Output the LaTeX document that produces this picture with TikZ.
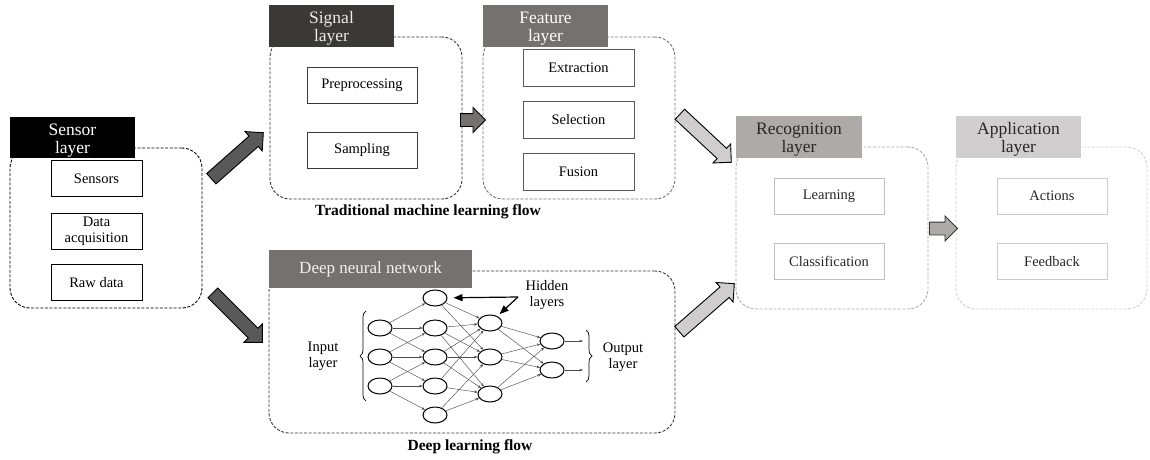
\documentclass[tikz,border=0pt]{standalone}
\usepackage{fontspec}
\setmainfont{Liberation Serif}
\usetikzlibrary{calc,shapes.arrows,shapes.geometric,arrows.meta,decorations.pathreplacing}

\definecolor{hdrSignal}{HTML}{3B3838}
\definecolor{hdrFeature}{HTML}{767171}
\definecolor{hdrRecog}{HTML}{AEAAAA}
\definecolor{hdrApp}{HTML}{D0CECE}
\definecolor{arrDark}{HTML}{595959}
\definecolor{arrLight}{HTML}{CFCDCD}

\tikzset{
  layerbox/.style={draw, dash pattern=on 3pt off 1.6pt, line width=0.9pt,
    rounded corners=20pt, inner sep=0pt},
  header/.style={inner sep=0pt, font=\fontsize{17.5}{18}\selectfont, align=center},
  item/.style={draw, line width=0.9pt, inner sep=0pt, minimum width=110pt,
    minimum height=36pt, font=\fontsize{14.5}{16}\selectfont, align=center},
  neuron/.style={ellipse, draw, line width=1pt, minimum width=24pt,
    minimum height=16pt, inner sep=0pt, fill=white},
  netedge/.style={draw=black!70, line width=0.45pt, -{Stealth[length=3.5pt,width=2.6pt]}},
  netlabel/.style={font=\fontsize{14.5}{16}\selectfont, align=center},
  flowtitle/.style={font=\bfseries\fontsize{15.5}{17}\selectfont},
  blk/.style={single arrow, inner xsep=0pt, inner ysep=6.5pt, minimum width=0pt,
    single arrow head extend=6pt, single arrow tip angle=90,
    single arrow head indent=0pt, line width=0.9pt},
  blksmall/.style={blk, inner ysep=6pt},
}

% strut that lowers a two-line header text slightly inside its box
\newcommand\hdrstrut{\rule{0pt}{17pt}}

% block arrow from a tail coordinate to a tip coordinate
\newcommand\blockarrow[3]{%
  \path let \p1=(#1), \p2=(#2),
        \n1={atan2(\y2-\y1,\x2-\x1)}, \n2={veclen(\x2-\x1,\y2-\y1)} in
    node[#3, rotate=\n1, minimum height=\n2, anchor=tail] at (\p1) {};
}

\begin{document}
\begin{tikzpicture}[x=1pt,y=-1pt]
\useasboundingbox (0,0) rectangle (1150,460);

% ---------- layer containers ----------
\node[layerbox, draw=black, minimum width=192pt, minimum height=160pt] (sensorC) at (106,228) {};
\node[layerbox, draw=hdrSignal, minimum width=192pt, minimum height=162pt] (signalC) at (366,118) {};
\node[layerbox, draw=hdrFeature, minimum width=192pt, minimum height=162pt] (featureC) at (579,118) {};
\node[layerbox, draw=hdrRecog, minimum width=192pt, minimum height=162pt] (recogC) at (832,228) {};
\node[layerbox, draw=hdrApp, minimum width=191pt, minimum height=162pt] (appC) at (1051.5,228) {};
\node[layerbox, draw=hdrSignal, minimum width=406pt, minimum height=162pt] (dnnC) at (472,352) {};

% ---------- headers ----------
\node[header, fill=black, text=white, minimum width=125pt, minimum height=41pt] (sensorH) at (72.5,137.5) {\hdrstrut Sensor\\layer};
\node[header, fill=hdrSignal, text=white!92!black, minimum width=125pt, minimum height=42pt] (signalH) at (331.5,26) {\hdrstrut Signal\\layer};
\node[header, fill=hdrFeature, text=white, minimum width=125pt, minimum height=42pt] (featureH) at (545.5,26) {\hdrstrut Feature\\layer};
\node[header, fill=hdrRecog, text=black!85, minimum width=126pt, minimum height=42pt] (recogH) at (799,137) {\hdrstrut Recognition\\layer};
\node[header, fill=hdrApp, text=black!85, minimum width=125pt, minimum height=42pt] (appH) at (1018.5,137) {\hdrstrut Application\\layer};
\node[header, fill=hdrFeature, text=white!95!black, font=\fontsize{17}{18}\selectfont, minimum width=203pt, minimum height=38pt] (dnnH) at (370.5,269) {Deep neural network};

% ---------- items ----------
\node[item, minimum width=91pt] (sensors) at (96.5,178.5) {Sensors};
\node[item, minimum width=91pt] (dataacq) at (96.5,231) {Data\\acquisition};
\node[item, minimum width=91pt] (rawdata) at (96.5,282.5) {Raw data};

\node[item, draw=hdrSignal] (preproc) at (362,85) {Preprocessing};
\node[item, draw=hdrSignal] (sampling) at (362,150.5) {Sampling};

\node[item, draw=black!65, minimum width=111pt, minimum height=37pt] (extract) at (578.5,67.5) {Extraction};
\node[item, draw=black!65, minimum width=111pt, minimum height=37pt] (select) at (578.5,120) {Selection};
\node[item, draw=black!65, minimum width=111pt, minimum height=37pt] (fusion) at (578.5,171.5) {Fusion};

\node[item, draw=black!25, text=black!85] (learning) at (829,196) {Learning};
\node[item, draw=black!25, text=black!85] (classif) at (829,261.5) {Classification};

\node[item, draw=black!20, text=black!85] (actions) at (1052,196) {Actions};
\node[item, draw=black!20, text=black!85] (feedback) at (1052,261.5) {Feedback};

% ---------- flow titles ----------
\node[flowtitle] (tmlTitle) at (428,212) {Traditional machine learning flow};
\node[flowtitle] (dlTitle) at (470,447) {Deep learning flow};

% ---------- block arrows between layers ----------
\coordinate (a1s) at (211,179);   \coordinate (a1t) at (263,133);
\coordinate (a2s) at (212.5,292.5); \coordinate (a2t) at (262,342);
\coordinate (a3s) at (460,120);   \coordinate (a3t) at (485,120);
\coordinate (a4s) at (679.5,114); \coordinate (a4t) at (731,162);
\coordinate (a5s) at (679,332);   \coordinate (a5t) at (734,284);
\coordinate (a6s) at (929,228.5); \coordinate (a6t) at (957,228.5);

\blockarrow{a1s}{a1t}{blk, fill=arrDark, draw=black}
\blockarrow{a2s}{a2t}{blk, fill=arrDark, draw=black}
\blockarrow{a3s}{a3t}{blksmall, fill=hdrFeature, draw=black}
\blockarrow{a4s}{a4t}{blk, fill=arrLight, draw=black}
\blockarrow{a5s}{a5t}{blk, fill=arrLight, draw=black}
\blockarrow{a6s}{a6t}{blksmall, fill=hdrRecog, draw=black!80}

% ---------- neural network ----------
\node[neuron] (n11) at (380,328) {};
\node[neuron] (n12) at (380,357) {};
\node[neuron] (n13) at (380,386) {};
\node[neuron] (n21) at (435,298) {};
\node[neuron] (n22) at (435,328) {};
\node[neuron] (n23) at (435,357) {};
\node[neuron] (n24) at (435,386) {};
\node[neuron] (n25) at (435,415) {};
\node[neuron] (n31) at (490,323) {};
\node[neuron] (n32) at (490,357) {};
\node[neuron] (n33) at (490,394) {};
\node[neuron] (n41) at (552,341) {};
\node[neuron] (n42) at (552,370) {};
\coordinate (o1) at (583,341);
\coordinate (o2) at (583,370);

\foreach \a/\b in {n11/n21,n11/n22,n11/n23, n12/n22,n12/n23,n12/n24, n13/n23,n13/n24,n13/n25,
                   n21/n31,n21/n32, n22/n31,n22/n32,n22/n33, n23/n31,n23/n32,n23/n33,
                   n24/n31,n24/n33, n25/n32,n25/n33,
                   n31/n41,n31/n42, n32/n41,n32/n42, n33/n41,n33/n42,
                   n41/o1, n42/o2}
  \draw[netedge] (\a) -- (\b);

% braces and layer labels
\coordinate (ibTop) at (366,311);  \coordinate (ibBot) at (366,401);
\coordinate (obTop) at (586,330);  \coordinate (obBot) at (586,382);
\draw[line width=0.7pt, decorate, decoration={brace, amplitude=6pt}] (ibBot) -- (ibTop);
\draw[line width=0.7pt, decorate, decoration={brace, amplitude=6pt}] (obTop) -- (obBot);
\node[netlabel] (inLbl) at (323,356) {Input\\layer};
\node[netlabel] (outLbl) at (623,357) {Output\\layer};
\node[netlabel] (hidLbl) at (547,295) {Hidden\\layers};

% hidden-layer pointers
\coordinate (hj) at (518,297);
\draw[line width=1.2pt, -{Triangle[length=9pt,width=7pt]}, shorten >=6pt] (hj) -- (n21);
\draw[line width=1.2pt, -{Triangle[length=9pt,width=7pt]}, shorten >=3pt] (hj) -- (n31);

\end{tikzpicture}
\end{document}
